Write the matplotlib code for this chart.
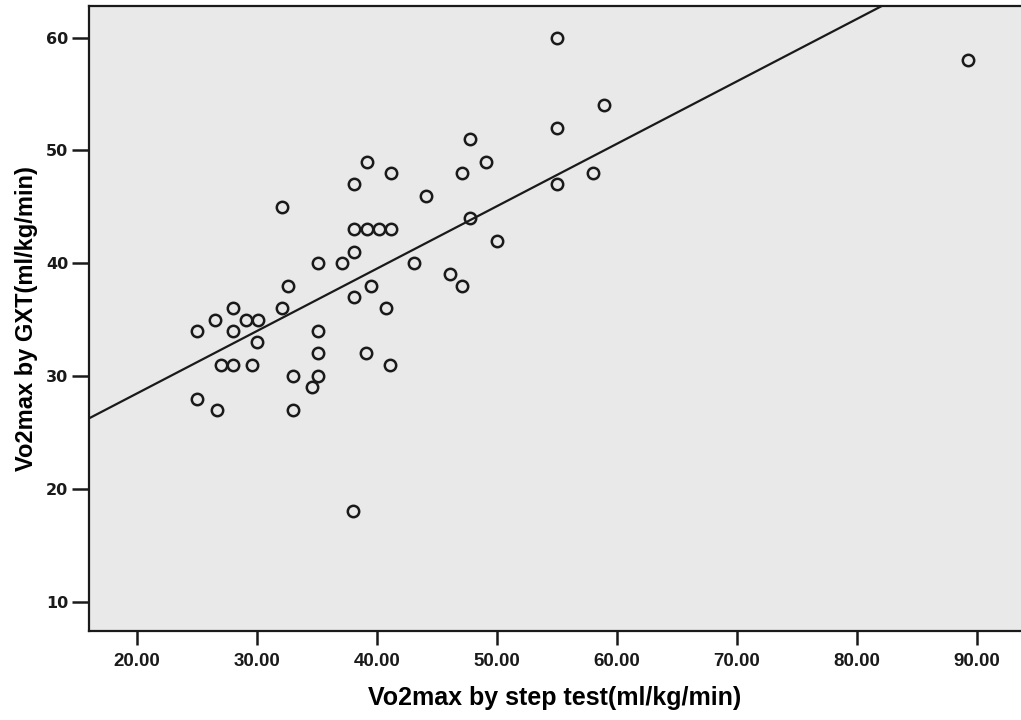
import numpy as np
import matplotlib
matplotlib.use("Agg")
import matplotlib.pyplot as plt

# Vo2max by step test (x) and by GXT (y), ml/kg/min
step_test = [32.6, 28.0, 32.1, 26.5, 29.1, 30.1, 25.0, 28.0, 35.1, 30.0,
             35.1, 27.0, 28.0, 29.6, 33.0, 35.1, 34.6, 25.0, 26.7, 33.0,
             47.8, 39.2, 49.1, 41.2, 47.1, 38.1, 44.1, 38.1, 39.2, 40.2,
             41.2, 47.8, 50.0, 38.1, 37.1, 43.1, 46.1, 47.1, 39.5, 38.1,
             40.8, 55.0, 58.9, 55.0, 58.0, 55.0, 89.3, 38.0, 32.1, 35.1,
             39.1, 41.1]
gxt = [38, 36, 36, 35, 35, 35, 34, 34, 34, 33,
       32, 31, 31, 31, 30, 30, 29, 28, 27, 27,
       51, 49, 49, 48, 48, 47, 46, 43, 43, 43,
       43, 44, 42, 41, 40, 40, 39, 38, 38, 37,
       36, 60, 54, 52, 48, 47, 58, 18, 45, 40,
       32, 31]

# fit line
fit_intercept = 17.4
fit_slope = 0.553

x_ticks = [20, 30, 40, 50, 60, 70, 80, 90]
y_ticks = [10, 20, 30, 40, 50, 60]

label_font = ["Liberation Sans", "DejaVu Sans"]

fig = plt.figure(figsize=(10.21, 7.2), dpi=100)
ax = fig.add_axes([0.0872, 0.1236, 0.9128, 0.8681])
ax.set_facecolor("#e9e9e9")

ax.set_xlim(16.0, 93.7)
ax.set_ylim(7.4, 62.8)

xs = np.array(ax.get_xlim())
ax.plot(xs, fit_intercept + fit_slope * xs, color="#1a1a1a", lw=1.6, zorder=2)

ax.plot(step_test, gxt, linestyle="none", marker="o", markersize=8.2,
        markerfacecolor="none", markeredgecolor="#1a1a1a",
        markeredgewidth=1.8, zorder=3)

ax.set_xticks(x_ticks)
ax.set_xticklabels(["%.2f" % v for v in x_ticks])
ax.set_yticks(y_ticks)
ax.set_yticklabels([str(v) for v in y_ticks])

ax.tick_params(axis="y", direction="out", length=12, width=1.8, pad=3,
               labelsize=11.5, colors="#1a1a1a")
ax.tick_params(axis="x", direction="out", length=10, width=1.8, pad=6,
               labelsize=13.5, colors="#1a1a1a")
for lab in ax.get_yticklabels():
    lab.set_fontweight("bold")
    lab.set_family(["DejaVu Sans"])
for lab in ax.get_xticklabels():
    lab.set_fontweight("bold")
    lab.set_family(label_font)

for side in ["left", "bottom", "top"]:
    ax.spines[side].set_linewidth(1.6)
    ax.spines[side].set_color("#1a1a1a")
ax.spines["right"].set_visible(False)

ax.set_xlabel("Vo2max by step test(ml/kg/min)", fontsize=18, fontweight="bold",
              family=label_font, labelpad=11)
ax.set_ylabel("Vo2max by GXT(ml/kg/min)", fontsize=17, fontweight="bold",
              family=label_font, labelpad=6)

fig.savefig("out.png", dpi=100, facecolor="white")
